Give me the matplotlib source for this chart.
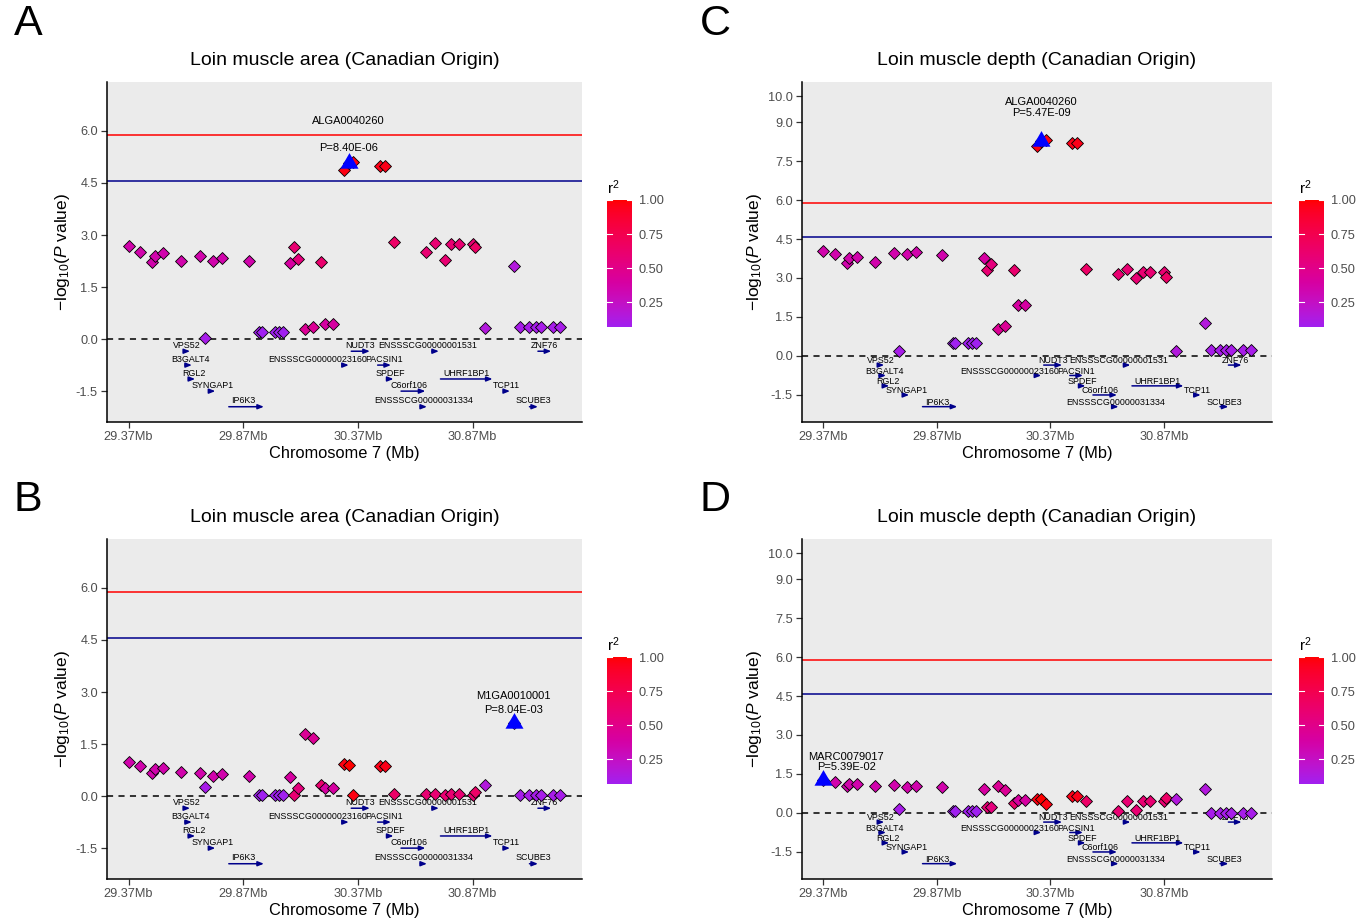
import numpy as np
import matplotlib
matplotlib.use("Agg")
import matplotlib.pyplot as plt
from matplotlib.colors import ListedColormap, Normalize
from matplotlib.colorbar import ColorbarBase

plt.rcParams['font.family'] = ['Liberation Sans', 'DejaVu Sans']
plt.rcParams['mathtext.fontset'] = 'custom'
plt.rcParams['mathtext.rm'] = 'Liberation Sans'
plt.rcParams['mathtext.it'] = 'Liberation Sans:italic'
plt.rcParams['axes.unicode_minus'] = False

# ---------------- data ----------------
# SNP positions on chromosome 7 (Mb)
snp_pos = [29.370, 29.421, 29.473, 29.484, 29.519, 29.597, 29.682, 29.703, 29.739, 29.777,
           29.895, 29.940, 29.950, 30.007, 30.027, 30.044, 30.076, 30.091, 30.110, 30.139,
           30.172, 30.208, 30.227, 30.260, 30.310, 30.330, 30.350, 30.466, 30.488, 30.528,
           30.667, 30.706, 30.748, 30.777, 30.811, 30.872, 30.882, 30.923, 31.050, 31.077,
           31.117, 31.146, 31.168, 31.221, 31.253]

# linkage disequilibrium (r^2) of each SNP
snp_r2 = [0.35, 0.35, 0.35, 0.35, 0.35, 0.35, 0.35, 0.10, 0.35, 0.35,
          0.35, 0.07, 0.07, 0.07, 0.07, 0.07, 0.40, 0.60, 0.55, 0.45,
          0.45, 0.62, 0.40, 0.40, 0.97, 1.00, 0.97, 0.95, 0.95, 0.65,
          0.60, 0.60, 0.60, 0.60, 0.60, 0.60, 0.65, 0.15, 0.15, 0.10,
          0.10, 0.10, 0.10, 0.10, 0.10]

# -log10(P) per SNP for each analysis
lma_scan1 = [2.68, 2.52, 2.23, 2.39, 2.47, 2.26, 2.40, 0.02, 2.26, 2.35,
             2.25, 0.21, 0.21, 0.21, 0.21, 0.21, 2.19, 2.66, 2.31, 0.28,
             0.34, 2.23, 0.43, 0.43, 4.87, 5.08, 5.10, 4.99, 4.99, 2.79,
             2.50, 2.78, 2.27, 2.73, 2.74, 2.74, 2.65, 0.31, 2.12, 0.34,
             0.34, 0.34, 0.34, 0.34, 0.34]
lma_scan2 = [0.98, 0.86, 0.67, 0.78, 0.82, 0.70, 0.66, 0.26, 0.59, 0.63,
             0.59, 0.02, 0.02, 0.02, 0.02, 0.02, 0.56, 0.02, 0.23, 1.80,
             1.68, 0.32, 0.23, 0.23, 0.92, 0.90, 0.02, 0.88, 0.88, 0.07,
             0.06, 0.06, 0.02, 0.06, 0.06, 0.04, 0.11, 0.31, 2.09, 0.04,
             0.04, 0.04, 0.04, 0.04, 0.04]
lmd_scan1 = [4.05, 3.92, 3.59, 3.77, 3.80, 3.63, 3.97, 0.19, 3.91, 3.99,
             3.88, 0.51, 0.51, 0.51, 0.51, 0.51, 3.76, 3.31, 3.53, 1.04,
             1.17, 3.31, 1.95, 1.95, 8.08, 8.26, 8.31, 8.18, 8.18, 3.33,
             3.14, 3.33, 3.01, 3.22, 3.24, 3.23, 3.05, 0.20, 1.26, 0.23,
             0.23, 0.23, 0.23, 0.23, 0.23]
lmd_scan2 = [1.27, 1.18, 1.04, 1.10, 1.10, 1.04, 1.09, 0.14, 1.01, 1.05,
             0.99, 0.09, 0.09, 0.09, 0.09, 0.09, 0.91, 0.22, 0.24, 1.05,
             0.88, 0.37, 0.50, 0.50, 0.53, 0.53, 0.33, 0.67, 0.67, 0.46,
             0.09, 0.46, 0.12, 0.47, 0.47, 0.47, 0.56, 0.54, 0.92, 0.01,
             0.01, 0.01, 0.01, 0.01, 0.01]

# lead SNP of each analysis: index, name, P value
lead_index = [25, 38, 25, 0]
lead_name = ["ALGA0040260", "M1GA0010001", "ALGA0040260", "MARC0079017"]
lead_p = [8.40e-06, 8.04e-03, 5.47e-09, 5.39e-02]

panel_titles = ["Loin muscle area (Canadian Origin)", "Loin muscle area (Canadian Origin)",
                "Loin muscle depth (Canadian Origin)", "Loin muscle depth (Canadian Origin)"]
panel_letters = ["A", "B", "C", "D"]

# genome-wide significance thresholds (-log10 P)
thr_genome = 5.87
thr_suggest = 4.57

# genes in the region
gene_names = ["VPS52", "NUDT3", "ENSSSCG00000001531", "ZNF76",
              "B3GALT4", "ENSSSCG00000023160", "PACSIN1",
              "RGL2", "SPDEF", "UHRF1BP1",
              "SYNGAP1", "C6orf106", "TCP11",
              "IP6K3", "ENSSSCG00000031334", "SCUBE3"]
gene_start = [29.612, 30.341, 30.693, 31.155,
              29.616, 30.305, 30.456,
              29.631, 30.495, 30.730,
              29.723, 30.558, 31.005,
              29.807, 30.642, 31.118]
gene_end = [29.638, 30.422, 30.723, 31.213,
            29.646, 30.330, 30.514,
            29.660, 30.525, 30.957,
            29.748, 30.664, 31.033,
            29.960, 30.671, 31.155]
gene_row = [0, 0, 0, 0, 1, 1, 1, 2, 2, 2, 3, 3, 3, 4, 4, 4]

x_ticks = [29.37, 29.87, 30.37, 30.87]
yticks_area = [-1.5, 0.0, 1.5, 3.0, 4.5, 6.0]
yticks_depth = [-1.5, 0.0, 1.5, 3.0, 4.5, 6.0, 7.5, 9.0, 10.0]
cbar_ticks = [0.25, 0.50, 0.75, 1.00]

# ---------------- layout / style ----------------
W, H = 1370, 922
row_y = [-0.35, -0.75, -1.15, -1.50, -1.95]
label_shift = {"ENSSSCG00000023160": -0.125, "ENSSSCG00000001531": -0.035,
               "C6orf106": -0.02, "IP6K3": -0.012, "RGL2": 0.01, "B3GALT4": 0.008}
panel_boxes = [(107, 82, 582, 422), (107, 539, 582, 879),
               (802, 82, 1272, 422), (802, 539, 1272, 879)]
cbar_boxes = [(607, 200, 632, 327), (607, 657, 632, 784),
              (1299, 200, 1324, 327), (1299, 657, 1324, 784)]
letter_xy = [(28, 24), (28, 500), (715, 24), (715, 500)]
ylims = [(-2.39, 7.41), (-2.39, 7.41), (-2.54, 10.54), (-2.54, 10.54)]
yticks_list = [yticks_area, yticks_area, yticks_depth, yticks_depth]
# offsets (points) for lead labels: (dx, dy_name, dy_p)
lead_text_offsets = [(0, 30, 11), (0, 20, 9.7), (0, 28, 20), (16.5, 16.8, 9.6)]
panel_values = [lma_scan1, lma_scan2, lmd_scan1, lmd_scan2]

BG = "#EBEBEB"
NAVY = "#00008B"
TXT = "#4D4D4D"


# colour ramp purple -> red interpolated in CIELAB
def _srgb_to_lab(rgb):
    c = np.asarray(rgb, float)
    lin = np.where(c <= 0.04045, c / 12.92, ((c + 0.055) / 1.055) ** 2.4)
    M = np.array([[0.4124, 0.3576, 0.1805], [0.2126, 0.7152, 0.0722], [0.0193, 0.1192, 0.9505]])
    xyz = M @ lin / np.array([0.95047, 1.0, 1.08883])
    d = 6 / 29
    f = np.where(xyz > d ** 3, np.cbrt(xyz), xyz / (3 * d * d) + 4 / 29)
    return np.array([116 * f[1] - 16, 500 * (f[0] - f[1]), 200 * (f[1] - f[2])])


def _lab_to_srgb(lab):
    L, a, b = lab
    fy = (L + 16) / 116
    fx = fy + a / 500
    fz = fy - b / 200
    d = 6 / 29
    f = np.array([fx, fy, fz])
    xyz = np.where(f > d, f ** 3, 3 * d * d * (f - 4 / 29)) * np.array([0.95047, 1.0, 1.08883])
    Minv = np.linalg.inv(np.array([[0.4124, 0.3576, 0.1805], [0.2126, 0.7152, 0.0722],
                                   [0.0193, 0.1192, 0.9505]]))
    lin = Minv @ xyz
    lin = np.clip(lin, 0, 1)
    c = np.where(lin <= 0.0031308, 12.92 * lin, 1.055 * lin ** (1 / 2.4) - 0.055)
    return np.clip(c, 0, 1)


lab_lo = _srgb_to_lab([0xA0 / 255, 0x20 / 255, 0xF0 / 255])
lab_hi = _srgb_to_lab([1.0, 0.0, 0.0])
ramp = [_lab_to_srgb(lab_lo + t * (lab_hi - lab_lo)) for t in np.linspace(0, 1, 256)]
cmap = ListedColormap(ramp)
norm = Normalize(vmin=min(snp_r2), vmax=max(snp_r2))

pos = np.array(snp_pos)
span = max(max(snp_pos), max(gene_end)) - min(min(snp_pos), min(gene_start))
xlim = (min(min(snp_pos), min(gene_start)) - 0.05 * span,
        max(max(snp_pos), max(gene_end)) + 0.05 * span)

tri = [(0, 1), (-0.866, -0.5), (0.866, -0.5), (0, 1)]

fig = plt.figure(figsize=(W / 100, H / 100), dpi=100)
fig.patch.set_facecolor("white")


def px_axes(box):
    l, t, r, b = box
    return fig.add_axes([l / W, 1 - b / H, (r - l) / W, (b - t) / H])


for k in range(4):
    ax = px_axes(panel_boxes[k])
    ax.set_facecolor(BG)
    vals = np.array(panel_values[k], float)
    li = lead_index[k]
    lead_val = -np.log10(lead_p[k])
    vals[li] = lead_val

    ax.axhline(thr_genome, color="#FF0000", lw=1.1, zorder=1)
    ax.axhline(thr_suggest, color=NAVY, lw=1.1, zorder=1)
    ax.axhline(0, color="black", lw=1.1, ls=(0, (4, 3.5)), zorder=1)

    # genes
    for g, name in enumerate(gene_names):
        y = row_y[gene_row[g]]
        ax.annotate("", xy=(gene_end[g], y), xytext=(gene_start[g], y),
                    arrowprops=dict(arrowstyle="-|>,head_length=0.35,head_width=0.14",
                                    color=NAVY, lw=1.1, shrinkA=0, shrinkB=0), zorder=2)
        mid = 0.5 * (gene_start[g] + gene_end[g]) + label_shift.get(name, 0.0)
        ax.text(mid, y + 0.17, name, ha="center", va="center", fontsize=6.4,
                color="black", zorder=3)

    # SNPs
    cols = cmap(norm(np.array(snp_r2)))
    for i in range(len(pos)):
        ax.plot(pos[i], vals[i], marker="D", ms=6, mfc=cols[i], mec="black",
                mew=0.6, ls="none", zorder=4)
    ax.plot(pos[li], lead_val, marker=tri, ms=15, color="#0000FF", mec="#0000FF",
            mew=0, ls="none", zorder=5)

    dx, dyn, dyp = lead_text_offsets[k]
    ax.annotate(lead_name[k], (pos[li], lead_val), xytext=(dx, dyn), textcoords="offset points",
                ha="center", va="center", fontsize=8, zorder=6)
    ax.annotate("P=%.2E" % lead_p[k], (pos[li], lead_val), xytext=(dx, dyp),
                textcoords="offset points", ha="center", va="center", fontsize=8, zorder=6)

    ax.set_xlim(xlim)
    ax.set_ylim(ylims[k])
    ax.set_xticks(x_ticks)
    ax.set_xticklabels(["%.2fMb" % v for v in x_ticks])
    ax.set_yticks(yticks_list[k])
    ax.set_yticklabels(["%.1f" % v for v in yticks_list[k]])
    ax.tick_params(axis="both", direction="out", length=4, width=0.9, color="#333333",
                   labelsize=9.2, labelcolor=TXT, pad=2.5)
    for s in ("top", "right"):
        ax.spines[s].set_visible(False)
    for s in ("left", "bottom"):
        ax.spines[s].set_linewidth(1.1)
        ax.spines[s].set_color("black")
    ax.set_xlabel("Chromosome 7 (Mb)", fontsize=11.8, labelpad=2)
    ax.set_ylabel(r"$-\mathrm{log}_{10}(\mathit{P}\ \mathrm{value})$", fontsize=12.5, labelpad=3)
    ax.set_title(panel_titles[k], fontsize=14, pad=12)

    lx, ly = letter_xy[k]
    fig.text(lx / W, 1 - ly / H, panel_letters[k], fontsize=31, ha="center", va="center")

    # colour bar
    cax = px_axes(cbar_boxes[k])
    cb = ColorbarBase(cax, cmap=cmap, norm=norm, orientation="vertical")
    cb.outline.set_visible(False)
    cb.set_ticks(cbar_ticks)
    cb.set_ticklabels(["%.2f" % t for t in cbar_ticks])
    cax.tick_params(length=0, labelsize=9.2, labelcolor=TXT, pad=5)
    for t in cbar_ticks:
        cax.axhline(t, xmin=0, xmax=0.2, color="white", lw=0.8)
        cax.axhline(t, xmin=0.8, xmax=1, color="white", lw=0.8)
    l, t_, r, b = cbar_boxes[k]
    fig.text(l / W, 1 - (t_ - 12) / H, r"r$^2$", fontsize=11, ha="left", va="center")

fig.savefig("out.png", dpi=100)
